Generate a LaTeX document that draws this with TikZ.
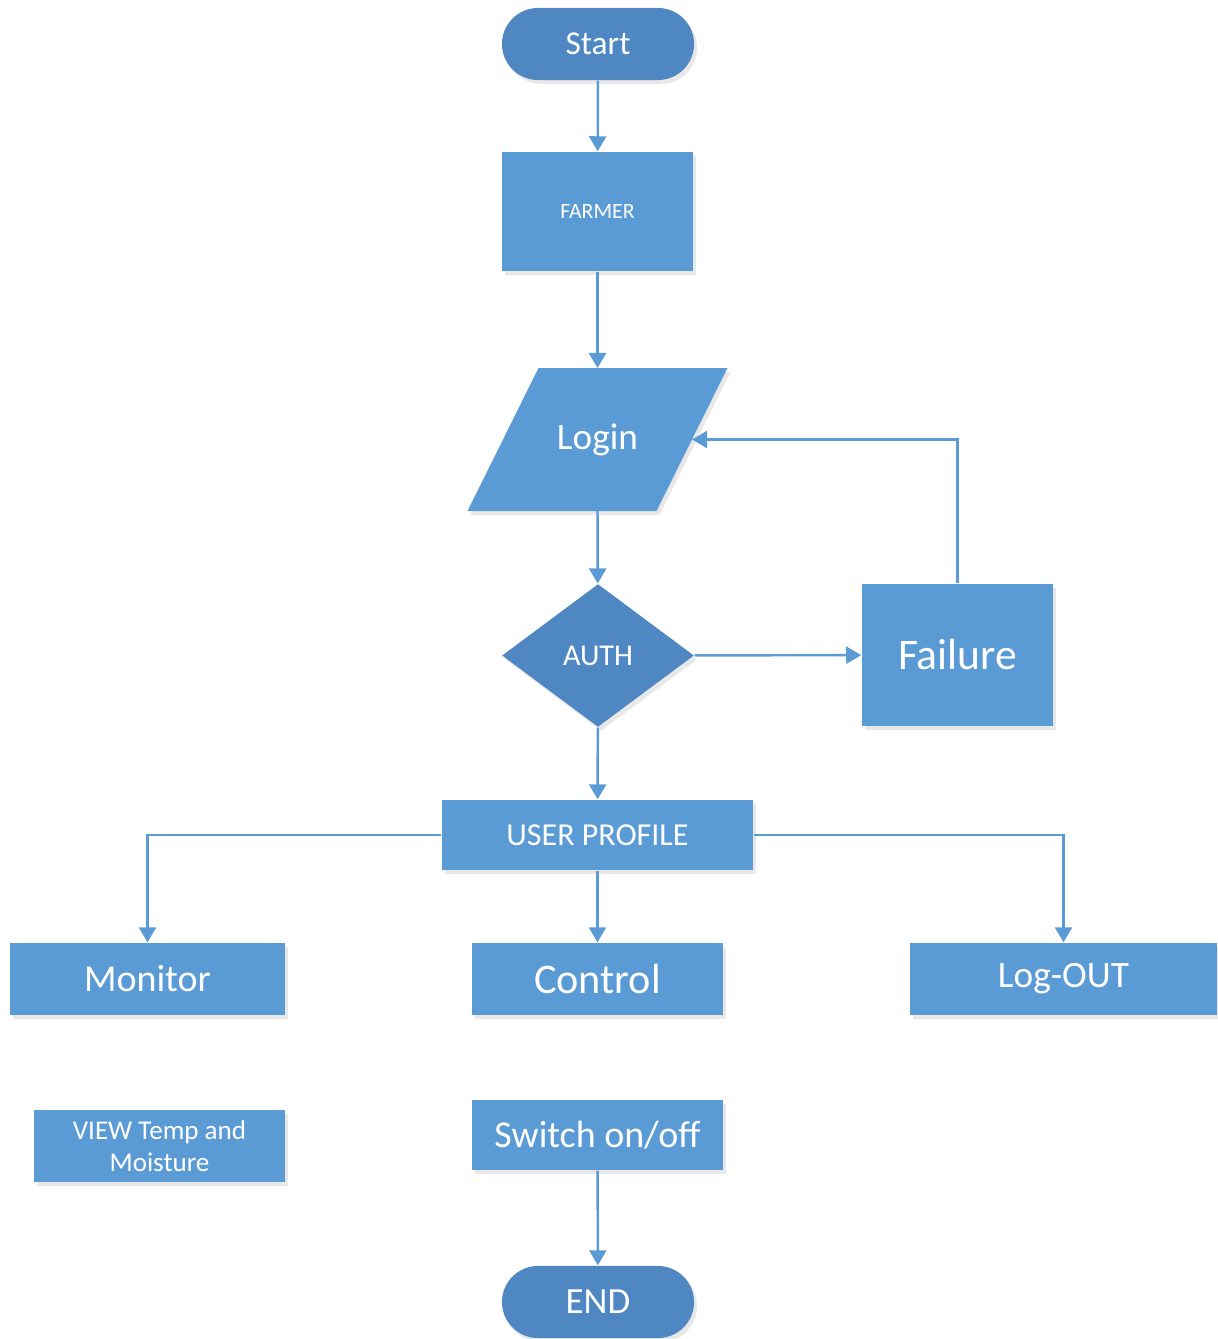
\documentclass[tikz,border=0pt]{standalone}
\usepackage{fontspec}
\setmainfont{Carlito}
\usetikzlibrary{positioning}
\usetikzlibrary{shapes.geometric}
\usetikzlibrary{arrows.meta}
\usetikzlibrary{shadows}
\definecolor{boxblue}{HTML}{5B9BD5}
\definecolor{darkblue}{HTML}{4F87C2}

\begin{document}
\begin{tikzpicture}[x=0.01cm, y=-0.01cm,
    base/.style={fill=boxblue, text=white, inner sep=0pt, align=center,
        drop shadow={opacity=0.18, shadow xshift=0.03cm, shadow yshift=-0.04cm}},
    box/.style={base, rectangle, minimum width=#1},
    term/.style={base, fill=darkblue, rectangle, rounded corners=0.36cm,
        minimum width=1.92cm, minimum height=0.72cm},
    flow/.style={draw=boxblue, line width=0.7pt, -{Triangle[width=0.17cm, length=0.15cm]}}]
    \useasboundingbox (0,0) rectangle (1217,1339);

    % Start and user
    \node[term, font=\fontsize{9.5}{11}\selectfont] (start) at (598,44) {Start};
    \node[box=1.91cm, minimum height=1.19cm, font=\fontsize{6.2}{7}\selectfont] (farmer) at (597.5,211.5) {FARMER};

    % Login (parallelogram) and check
    \coordinate (l) at (597.5,439.5);
    \coordinate (login-top) at (597.5,368);
    \coordinate (login-bot) at (597.5,511);
    \coordinate (login-in) at (692,439.5);
    \path[base] ([shift={(-130,71.5)}]l) -- ([shift={(-59,-71.5)}]l)
        -- ([shift={(130,-71.5)}]l) -- ([shift={(59,71.5)}]l) -- cycle;
    \node[text=white, font=\fontsize{10.6}{13}\selectfont] (login) at (l) {Login};
    \node[base, fill=darkblue, diamond, aspect=1.34, minimum width=1.92cm, minimum height=1.43cm,
        font=\fontsize{8.6}{11}\selectfont] (auth) at (598,655.5) {AUTH};
    \node[box=1.91cm, minimum height=1.42cm, font=\fontsize{12.4}{15}\selectfont] (failure) at (957.5,655) {Failure};

    % Profile and menu
    \node[box=3.11cm, minimum height=0.70cm, font=\fontsize{9.1}{10}\selectfont] (profile) at (597.5,835) {USER PROFILE};
    \node[box=2.75cm, minimum height=0.72cm, font=\fontsize{10.8}{13}\selectfont] (monitor) at (147.5,979) {Monitor};
    \node[box=2.51cm, minimum height=0.72cm, font=\fontsize{12}{14}\selectfont] (control) at (597.5,979) {Control};
    \node[box=3.07cm, minimum height=0.72cm, font=\fontsize{10.6}{13}\selectfont] (logout) at (1063.5,979) {Log-OUT};

    % Actions
    \node[box=2.51cm, minimum height=0.72cm, font=\fontsize{7.7}{9.1}\selectfont] (view) at (159.5,1146) {VIEW Temp and\\Moisture};
    \node[box=2.51cm, minimum height=0.70cm, font=\fontsize{10.8}{13}\selectfont] (switch) at (597.5,1135) {Switch on/off};
    \node[term, font=\fontsize{10.5}{12}\selectfont] (end) at (598,1302) {END};

    % Connectors
    \draw[flow] (start) -- (farmer);
    \draw[flow] (farmer) -- (login-top);
    \draw[flow] (login-bot) -- (auth);
    \draw[flow] (auth) -- (failure);
    \draw[flow] (failure.north) |- (login-in);
    \draw[flow] (auth) -- (profile);
    \draw[flow] (profile.west) -| (monitor.north);
    \draw[flow] (profile) -- (control);
    \draw[flow] (profile.east) -| (logout.north);
    \draw[flow] (switch) -- (end);
\end{tikzpicture}
\end{document}
